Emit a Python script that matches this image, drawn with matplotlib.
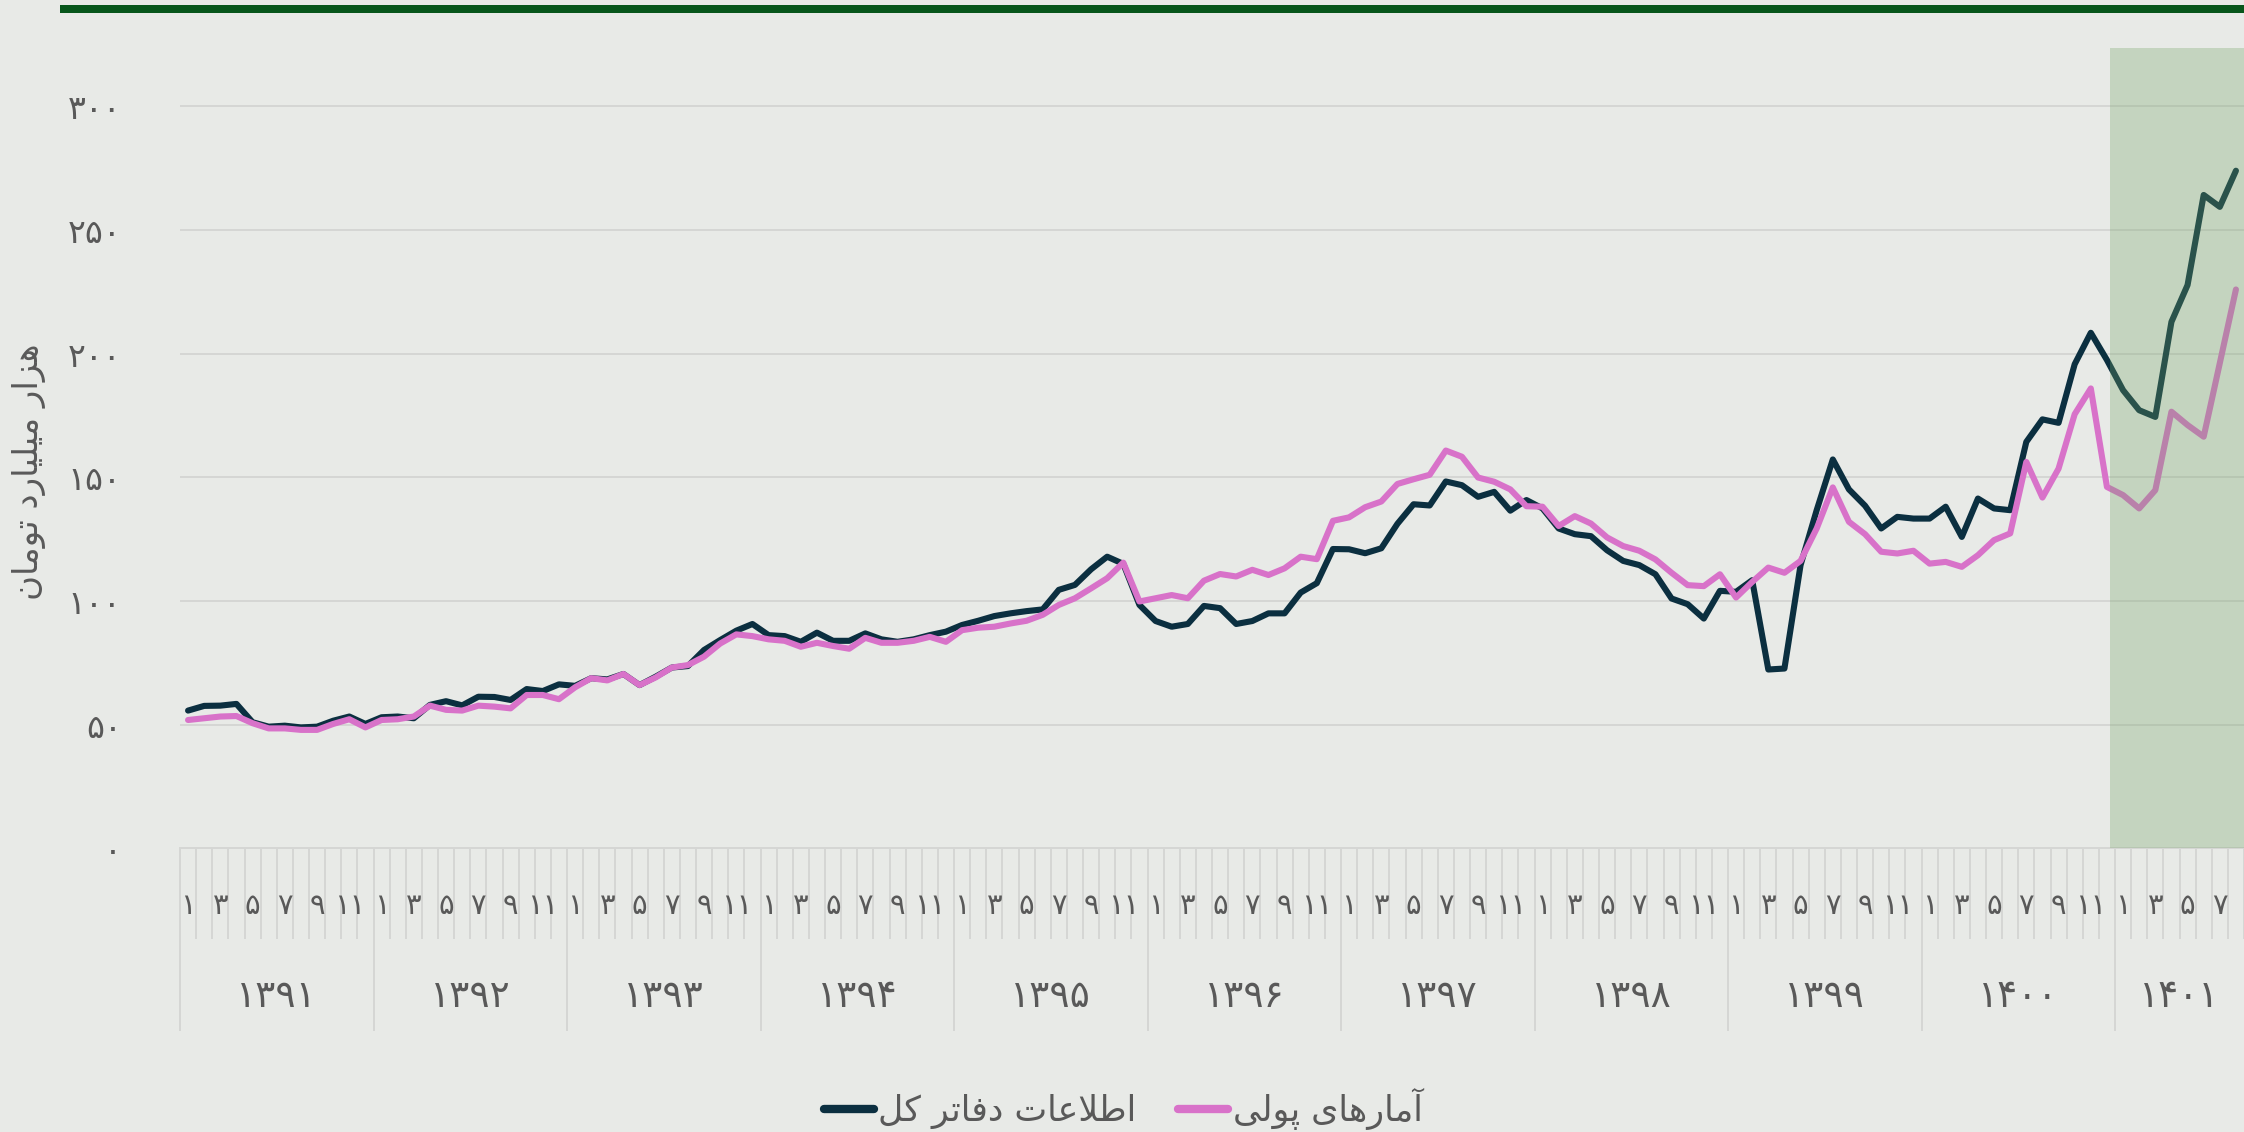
import matplotlib
matplotlib.use("Agg")
import matplotlib.pyplot as plt
from matplotlib.lines import Line2D
from matplotlib.patches import Rectangle

plt.rcParams['font.family'] = ['DejaVu Sans']

# --- data (thousand billion toman), monthly 1391/01 .. 1401/08 ---
years = [1391, 1392, 1393, 1394, 1395, 1396, 1397, 1398, 1399, 1400, 1401]
ledger = [
    55.7, 57.6, 57.7, 58.4, 51.0, 49.2, 49.6, 48.9, 49.2, 51.6, 53.3, 50.3,
    53.0, 53.3, 52.6, 58.0, 59.5, 57.8, 61.3, 61.2, 60.0, 64.4, 63.6, 66.3,
    65.7, 68.8, 68.3, 70.5, 66.0, 69.4, 73.1, 73.7, 80.2, 84.2, 88.0, 90.7,
    86.2, 85.8, 83.5, 87.2, 83.9, 83.9, 86.9, 84.5, 83.5, 84.5, 86.2, 87.6,
    90.3, 92.0, 93.9, 95.0, 95.9, 96.6, 104.5, 106.5, 112.8, 117.9, 115.0, 98.4,
    91.9, 89.6, 90.7, 98.0, 97.1, 90.7, 91.9, 95.0, 95.0, 103.4, 107.2, 121.0,
    120.9, 119.3, 121.3, 131.2, 139.1, 138.6, 148.3, 146.8, 142.1, 144.1, 136.5, 140.8,
    137.4, 129.3, 127.0, 126.2, 120.5, 116.2, 114.5, 110.8, 101.0, 98.7, 92.9, 104.1,
    103.7, 108.4, 72.3, 72.7, 114.5, 136.7, 157.2, 145.1, 138.5, 129.3, 134.0, 133.3,
    133.3, 138.1, 125.9, 141.4, 137.4, 136.7, 164.3, 173.4, 172.0, 195.7, 208.4, 197.4,
    185.2, 177.1, 174.4, 212.8, 227.7, 264.1, 259.3, 273.9,
]
monetary = [
    51.9, 52.6, 53.3, 53.5, 50.6, 48.5, 48.5, 47.9, 47.9, 50.3, 52.2, 48.9,
    51.9, 52.2, 53.3, 57.7, 56.0, 55.7, 57.7, 57.3, 56.6, 62.0, 62.0, 60.3,
    65.1, 68.8, 67.9, 70.5, 66.0, 69.1, 73.1, 74.1, 77.5, 82.8, 86.5, 85.8,
    84.5, 83.9, 81.5, 83.1, 81.8, 80.7, 85.1, 83.1, 83.1, 83.9, 85.5, 83.5,
    88.2, 89.2, 89.6, 90.9, 92.0, 94.4, 98.4, 101.1, 105.1, 109.2, 115.5, 99.8,
    101.1, 102.4, 101.1, 108.2, 110.9, 109.9, 112.6, 110.5, 113.2, 117.9, 116.9, 132.4,
    133.8, 137.9, 140.2, 147.3, 149.2, 151.0, 160.8, 158.3, 149.9, 148.2, 145.1, 138.3,
    138.1, 130.3, 134.3, 131.3, 125.7, 122.2, 120.3, 116.8, 111.4, 106.4, 106.0, 110.8,
    101.4, 107.7, 113.5, 111.4, 116.2, 129.3, 145.9, 132.0, 127.0, 119.9, 119.2, 120.3,
    115.1, 115.8, 113.8, 118.5, 124.6, 127.3, 156.2, 141.8, 153.5, 175.5, 185.9, 146.1,
    142.8, 137.4, 144.8, 176.5, 171.1, 166.4, 196.1, 225.9,
]
ledger_label = 'اطلاعات دفاتر کل'
monetary_label = 'آمارهای پولی'
y_title = 'هزار میلیارد تومان'
yticks = [0, 50, 100, 150, 200, 250, 300]

# --- minimal persian shaping (matplotlib has no bidi / joining) ---
FORMS = {
    'آ': ('\uFE81', '\uFE82', None, None),
    'ا': ('\uFE8D', '\uFE8E', None, None),
    'ت': ('\uFE95', '\uFE96', '\uFE97', '\uFE98'),
    'د': ('\uFEA9', '\uFEAA', None, None),
    'ر': ('\uFEAD', '\uFEAE', None, None),
    'ز': ('\uFEAF', '\uFEB0', None, None),
    'ط': ('\uFEC1', '\uFEC2', '\uFEC3', '\uFEC4'),
    'ع': ('\uFEC9', '\uFECA', '\uFECB', '\uFECC'),
    'ف': ('\uFED1', '\uFED2', '\uFED3', '\uFED4'),
    'ل': ('\uFEDD', '\uFEDE', '\uFEDF', '\uFEE0'),
    'م': ('\uFEE1', '\uFEE2', '\uFEE3', '\uFEE4'),
    'ن': ('\uFEE5', '\uFEE6', '\uFEE7', '\uFEE8'),
    'ه': ('\uFEE9', '\uFEEA', '\uFEEB', '\uFEEC'),
    'و': ('\uFEED', '\uFEEE', None, None),
    'پ': ('\uFB56', '\uFB57', '\uFB58', '\uFB59'),
    'ک': ('\uFB8E', '\uFB8F', '\uFB90', '\uFB91'),
    'ی': ('\uFBFC', '\uFBFD', '\uFBFE', '\uFBFF'),
}
LAMALEF = {'ا': ('\uFEFB', '\uFEFC'), 'آ': ('\uFEF5', '\uFEF6')}


def shape(text):
    out = []
    i = 0
    n = len(text)
    while i < n:
        c = text[i]
        if c not in FORMS:
            out.append(c)
            i += 1
            continue
        prev = text[i - 1] if i > 0 else None
        joins_prev = prev in FORMS and FORMS[prev][2] is not None
        if c == 'ل' and i + 1 < n and text[i + 1] in LAMALEF:
            lig = LAMALEF[text[i + 1]]
            out.append(lig[1] if joins_prev else lig[0])
            i += 2
            continue
        nxt = text[i + 1] if i + 1 < n else None
        joins_next = FORMS[c][2] is not None and nxt in FORMS
        isol, fina, init, medi = FORMS[c]
        if joins_prev and joins_next:
            out.append(medi)
        elif joins_prev:
            out.append(fina)
        elif joins_next:
            out.append(init)
        else:
            out.append(isol)
        i += 1
    return ''.join(reversed(out))


def fa(n):
    return str(n).translate(str.maketrans('0123456789', '۰۱۲۳۴۵۶۷۸۹'))


bg = '#e8eae7'
grid_c = '#d5d6d4'
txt_c = '#595959'
dark_c = '#0b2f40'
pink_c = '#d872c9'

W, H = 2244, 1132
fig = plt.figure(figsize=(W / 100, H / 100), dpi=100, facecolor=bg)
ax = fig.add_axes([180 / W, 1 - 848.4 / H, 1 - 180 / W, 800.4 / H], facecolor=bg)

x = list(range(len(ledger)))
ax.plot(x, ledger, color=dark_c, lw=4.4, solid_capstyle='round', zorder=3)
ax.plot(x, monetary, color=pink_c, lw=4.4, solid_capstyle='round', zorder=3)

ax.set_xlim(-0.5, 127.15)
ax.set_ylim(0, 323.5)
ax.axvspan(119.2, 130, color='#73a465', alpha=0.3, lw=0, zorder=5)

# y axis
ax.set_yticks(yticks)
ax.set_yticklabels([fa(v) for v in yticks], fontsize=24, color=txt_c)
ax.tick_params(axis='y', length=0, pad=42)
ax.yaxis.grid(True, color=grid_c, lw=1.4)
ax.set_axisbelow(True)
for s in ['left', 'right', 'top']:
    ax.spines[s].set_visible(False)
ax.spines['bottom'].set_color(grid_c)
ax.spines['bottom'].set_linewidth(1.4)

# x axis: month boundaries + year separators
ax.set_xticks([12 * k - 0.5 for k in range(len(years))])
ax.set_xticks([m - 0.5 for m in range(129)], minor=True)
ax.tick_params(axis='x', which='major', length=132, width=1.4, color=grid_c,
               labelbottom=False)
ax.tick_params(axis='x', which='minor', length=65.5, width=1.4, color=grid_c,
               labelbottom=False)

xt = ax.get_xaxis_transform()
for i in range(len(ledger)):
    m = i % 12 + 1
    if m % 2 == 1:
        ax.text(i, -0.072, fa(m), transform=xt, ha='center', va='center',
                fontsize=21, color=txt_c)
for k, yr in enumerate(years):
    last = min(12 * k + 11, len(ledger) - 1)
    ax.text((12 * k + last) / 2, -0.186, fa(yr), transform=xt, ha='center',
            va='center', fontsize=27, color=txt_c)

fig.text(29 / W, 1 - 472 / H, shape(y_title), rotation=90, ha='center',
         va='center', fontsize=24.5, color=txt_c)

# top rule
fig.add_artist(Rectangle((60 / W, 1 - 13 / H), 1 - 60 / W, 8 / H,
                         transform=fig.transFigure, color='#07561b', lw=0))

handles = [Line2D([], [], color=dark_c, lw=6, solid_capstyle='round'),
           Line2D([], [], color=pink_c, lw=6, solid_capstyle='round')]
fig.legend(handles, [shape(ledger_label), shape(monetary_label)], loc='center',
           bbox_to_anchor=(1123 / W, 1 - 1109 / H), ncol=2, frameon=False,
           fontsize=25, handlelength=1.45, handletextpad=0.12,
           columnspacing=1.2, labelcolor=txt_c)

fig.savefig('out.png', dpi=100, facecolor=bg)
